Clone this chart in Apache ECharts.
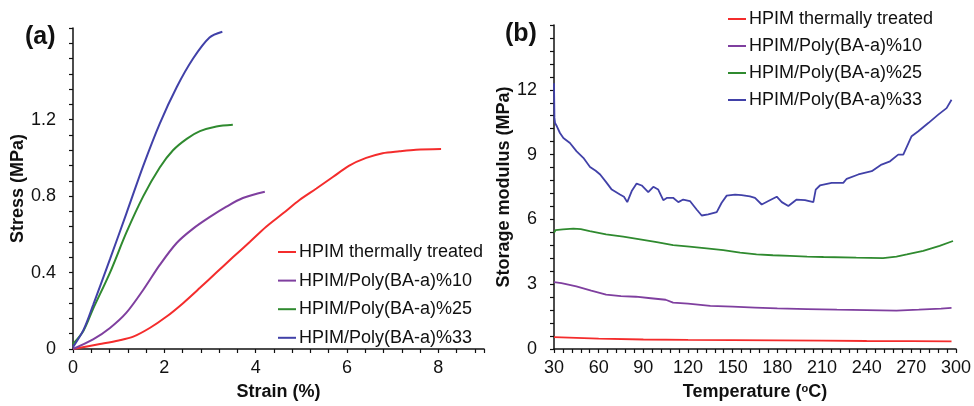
<!DOCTYPE html>
<html>
<head>
<meta charset="utf-8">
<script src="https://cdn.jsdelivr.net/npm/echarts@6/dist/echarts.min.js"></script>
<style>
  html, body { margin: 0; padding: 0; background: #fff; }
  #chart { width: 974px; height: 406px; }
</style>
</head>
<body>
<div id="chart"></div>
<script>
// series names
const names = ['HPIM thermally treated', 'HPIM/Poly(BA-a)%10', 'HPIM/Poly(BA-a)%25', 'HPIM/Poly(BA-a)%33']
const colors = ['#f42c2c', '#7f3f9f', '#2f8a2f', '#4141a8']

// (a) stress-strain: [strain %, stress MPa]
const tensileRed = [[0, 0], [0.59, 0.026], [1.0, 0.045], [1.32, 0.065], [1.68, 0.11], [2.05, 0.17], [2.41, 0.24], [2.78, 0.32],
  [3.14, 0.40], [3.5, 0.48], [3.87, 0.56], [4.23, 0.64], [4.6, 0.71], [4.96, 0.78], [5.33, 0.84], [5.69, 0.9],
  [6.05, 0.96], [6.42, 1.0], [6.78, 1.025], [7.15, 1.035], [7.51, 1.043], [8.06, 1.047]]
const tensile10 = [[0, 0], [0.44, 0.05], [0.81, 0.11], [1.17, 0.19], [1.54, 0.31], [1.9, 0.44], [2.27, 0.555],
  [2.63, 0.63], [2.99, 0.69], [3.36, 0.745], [3.72, 0.79], [4.2, 0.823]]
const tensile25 = [[0, 0.026], [0.23, 0.096], [0.44, 0.21], [0.81, 0.4], [1.17, 0.61], [1.54, 0.8], [1.9, 0.95],
  [2.19, 1.04], [2.49, 1.1], [2.78, 1.14], [3.14, 1.165], [3.5, 1.174]]
const tensile33 = [[0, 0.01], [0.23, 0.1], [0.44, 0.23], [0.81, 0.47], [1.17, 0.71], [1.54, 0.96], [1.9, 1.18],
  [2.27, 1.37], [2.63, 1.52], [2.99, 1.63], [3.27, 1.66]]

// (b) storage modulus: [temperature °C, modulus MPa]
const dmaRed = [[30, 0.55], [60, 0.48], [90, 0.44], [120, 0.42], [150, 0.41], [180, 0.4], [210, 0.39], [240, 0.37], [270, 0.36], [297, 0.35]]
const dma10 = [[30, 3.1], [35, 3.05], [45, 2.9], [55, 2.7], [65, 2.52], [75, 2.45], [85, 2.42], [95, 2.35], [105, 2.28],
  [110, 2.15], [120, 2.1], [135, 2.0], [150, 1.96], [165, 1.92], [180, 1.88], [200, 1.85], [220, 1.82], [240, 1.8],
  [260, 1.78], [275, 1.82], [290, 1.87], [297, 1.9]]
const dma25 = [[30, 5.38], [31, 5.5], [36, 5.54], [43, 5.57], [48, 5.55], [54, 5.46], [65, 5.31], [76.5, 5.2], [87.8, 5.08],
  [99, 4.95], [110, 4.81], [121, 4.74], [132.5, 4.66], [143.7, 4.58], [155, 4.46], [166, 4.38], [177, 4.34], [188.5, 4.31],
  [200, 4.28], [211, 4.26], [233, 4.23], [251, 4.21], [260, 4.28], [267, 4.38], [278, 4.54], [289, 4.77], [298, 5.0]]
const dma33 = [[30, 12.3], [30.3, 10.7], [30.7, 10.46], [32, 10.3], [34, 10.0], [36.3, 9.77], [40.7, 9.54], [45.2, 9.15],
  [49.7, 8.85], [54.2, 8.43], [58, 8.25], [61, 8.08], [65.4, 7.69], [68.8, 7.38], [74.3, 7.15], [77, 7.05], [79.2, 6.8],
  [82.2, 7.31], [85.5, 7.66], [88.9, 7.57], [93.3, 7.26], [96.7, 7.51], [100, 7.38], [103.4, 6.89], [106, 7.0], [110, 7.0],
  [113.5, 6.8], [116.8, 6.92], [121.3, 6.85], [125.8, 6.46], [129.2, 6.18], [133.6, 6.23], [139.3, 6.34], [142.6, 6.77],
  [146, 7.1], [151.6, 7.15], [156, 7.12], [161.6, 7.07], [165, 7.0], [169.5, 6.69], [174, 6.85], [179.6, 7.05], [183, 6.8],
  [187.4, 6.62], [193, 6.92], [198.6, 6.89], [204.2, 6.8], [205.8, 7.38], [208.6, 7.57], [216.5, 7.69], [224.3, 7.69],
  [226.6, 7.88], [234.4, 8.08], [243.4, 8.23], [250, 8.54], [255.7, 8.69], [261.2, 9.0], [264.6, 9.0], [270.2, 9.85],
  [274.7, 10.08], [281.4, 10.46], [288.1, 10.85], [293.7, 11.15], [297, 11.54]]

// tick labels shown
const strainLabels = [0, 2, 4, 6, 8]
const stressLabels = [0, 0.4, 0.8, 1.2]
const tempLabels = [30, 60, 90, 120, 150, 180, 210, 240, 270, 300]
const modulusLabels = [0, 3, 6, 9, 12]

const font = 'Liberation Sans, Arial, sans-serif'
const txt = '#111'

function pick(list) {
  return v => (list.some(t => Math.abs(t - v) < 1e-6) ? String(v) : '')
}

function axisBase(extra) {
  return Object.assign({
    type: 'value',
    axisLine: { show: true, onZero: false, lineStyle: { color: '#111', width: 1.5 } },
    axisTick: { show: true, inside: false, length: 4, lineStyle: { color: '#111', width: 1.2 } },
    splitLine: { show: false },
    axisLabel: { fontSize: 18, color: txt, fontFamily: font },
    nameLocation: 'middle',
    nameTextStyle: { fontSize: 18, fontWeight: 'bold', color: txt, fontFamily: font }
  }, extra)
}

const chart = echarts.init(document.getElementById('chart'))

const option = {
  animation: false,
  backgroundColor: '#fff',
  color: colors,
  title: [
    { text: '(a)', left: 25, top: 25, padding: 0, textStyle: { fontSize: 25, fontWeight: 'bold', color: txt, fontFamily: font } },
    { text: '(b)', left: 505, top: 22, padding: 0, textStyle: { fontSize: 25, fontWeight: 'bold', color: txt, fontFamily: font } }
  ],
  legend: [
    {
      data: names, orient: 'vertical', left: 278, top: 243, padding: 0, itemGap: 10.6,
      icon: 'rect', itemWidth: 18, itemHeight: 2,
      textStyle: { fontSize: 18, color: txt, fontFamily: font, padding: [0, 0, 0, -2] }
    },
    {
      data: names, orient: 'vertical', left: 728, top: 10, padding: 0, itemGap: 9,
      icon: 'rect', itemWidth: 18, itemHeight: 2,
      textStyle: { fontSize: 18, color: txt, fontFamily: font, padding: [0, 0, 0, -2] }
    }
  ],
  grid: [
    { left: 73, top: 28, width: 411, height: 322 },
    { left: 554, top: 25, width: 402, height: 325 }
  ],
  xAxis: [
    axisBase({
      gridIndex: 0, min: 0, max: 9, interval: 0.4,
      name: 'Strain (%)', nameGap: 34,
      axisLabel: { fontSize: 18, color: txt, fontFamily: font, margin: 10, formatter: pick(strainLabels) }
    }),
    axisBase({
      gridIndex: 1, min: 30, max: 300, interval: 6,
      name: 'Temperature ({sup|o}C)', nameGap: 34,
      nameTextStyle: {
        fontSize: 18, fontWeight: 'bold', color: txt, fontFamily: font,
        rich: { sup: { fontSize: 11, fontWeight: 'bold', color: txt, fontFamily: font, verticalAlign: 'top', lineHeight: 10 } }
      },
      axisLabel: { fontSize: 18, color: txt, fontFamily: font, margin: 10, formatter: pick(tempLabels) }
    })
  ],
  yAxis: [
    axisBase({
      gridIndex: 0, min: 0, max: 1.68, interval: 0.08,
      name: 'Stress (MPa)', nameGap: 45,
      axisLabel: { fontSize: 18, color: txt, fontFamily: font, margin: 17, formatter: pick(stressLabels) }
    }),
    axisBase({
      gridIndex: 1, min: 0, max: 15, interval: 0.6,
      name: 'Storage modulus (MPa)', nameGap: 40,
      axisLabel: { fontSize: 18, color: txt, fontFamily: font, margin: 17, formatter: pick(modulusLabels) }
    })
  ],
  series: []
}

const tensile = [tensileRed, tensile10, tensile25, tensile33]
const dma = [dmaRed, dma10, dma25, dma33]
names.forEach((n, i) => {
  option.series.push({
    name: n, type: 'line', xAxisIndex: 0, yAxisIndex: 0, data: tensile[i],
    smooth: 0.3,
    showSymbol: false, lineStyle: { width: 2, color: colors[i] }, itemStyle: { color: colors[i] }
  })
  option.series.push({
    name: n, type: 'line', xAxisIndex: 1, yAxisIndex: 1, data: dma[i],
    showSymbol: false, lineStyle: { width: 1.8, color: colors[i] }, itemStyle: { color: colors[i] }
  })
})

chart.setOption(option)
</script>
</body>
</html>
